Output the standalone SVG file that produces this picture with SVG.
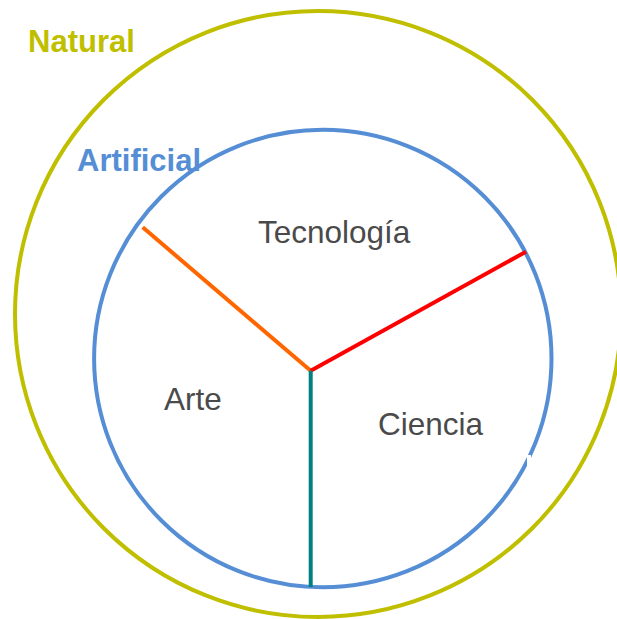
<svg xmlns="http://www.w3.org/2000/svg" width="617" height="619" viewBox="0 0 617 619">
<style>
.lbl{font-family:"Liberation Sans",Arial,sans-serif;font-size:31.5px;fill:#4a4a4a}
.ttl{font-family:"Liberation Sans",Arial,sans-serif;font-size:31px;font-weight:bold}
.ring{fill:none}
.seg{stroke-width:4;fill:none}
</style>
<rect width="617" height="619" fill="#ffffff"/>
<g id="natural">
<circle class="ring" cx="318" cy="314" r="303" stroke="#BFBF00" stroke-width="4"/>
<text class="ttl" x="28" y="52" fill="#BFBF00">Natural</text>
</g>
<g id="artificial">
<circle class="ring" cx="322.8" cy="358.5" r="228.7" stroke="#558ED5" stroke-width="4"/>
<rect x="527" y="455" width="4" height="12" fill="#ffffff"/>
<text class="ttl" x="77" y="171" fill="#558ED5">Artificial</text>
</g>
<g id="connectors">
<line class="seg" x1="310.7" y1="370.7" x2="142.7" y2="227.3" stroke="#FF6600"/>
<line class="seg" x1="310.7" y1="370.7" x2="526" y2="251.7" stroke="#FF0000"/>
<line class="seg" x1="310.7" y1="370.7" x2="310.7" y2="587" stroke="#008080"/>
</g>
<g id="tecnologia"><text class="lbl" x="258" y="243">Tecnología</text></g>
<g id="arte"><text class="lbl" x="164" y="410">Arte</text></g>
<g id="ciencia"><text class="lbl" x="378" y="435">Ciencia</text></g>
</svg>
